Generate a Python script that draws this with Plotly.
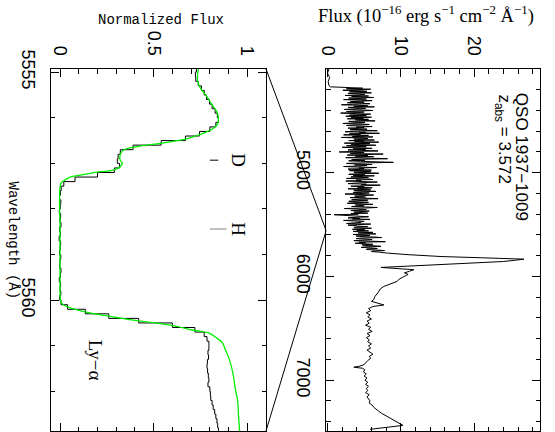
import plotly.graph_objects as go

# ---------------- data ----------------
# Zoomed panel: normalized flux (step spectrum), bins start wavelengths (Angstrom)
zoom_wl = [5554.9, 5555.0, 5555.1, 5555.2, 5555.3, 5555.4, 5555.5, 5555.6, 5555.7, 5555.8,
           5555.9, 5556.0, 5556.1, 5556.2, 5556.3, 5556.4, 5556.5, 5556.6, 5556.7, 5556.8,
           5556.9, 5557.0, 5557.1, 5557.2, 5557.3, 5557.4, 5557.5, 5557.6, 5557.7, 5557.8,
           5557.9, 5558.0, 5558.1, 5558.2, 5558.3, 5558.4, 5558.5, 5558.6, 5558.7, 5558.8,
           5558.9, 5559.0, 5559.1, 5559.2, 5559.3, 5559.4, 5559.5, 5559.6, 5559.7, 5559.8,
           5559.9, 5560.0, 5560.1, 5560.2, 5560.3, 5560.4, 5560.5, 5560.6, 5560.7, 5560.8,
           5560.9, 5561.0, 5561.1, 5561.2, 5561.3, 5561.4, 5561.5, 5561.6, 5561.7, 5561.8,
           5561.9, 5562.0, 5562.1, 5562.2, 5562.3, 5562.4, 5562.5, 5562.6, 5562.7, 5562.8,
           5562.9]
zoom_flux = [0.728, 0.723, 0.725, 0.738, 0.755, 0.770, 0.782, 0.798, 0.812, 0.828,
             0.840, 0.846, 0.832, 0.800, 0.745, 0.670, 0.540, 0.390, 0.322, 0.310,
             0.306, 0.318, 0.290, 0.200, 0.080, 0.020, 0.006, 0.002, -0.003, 0.004,
             0.001, -0.004, 0.003, 0.000, 0.005, -0.002, 0.002, -0.005, 0.003, 0.001,
             -0.003, 0.004, 0.000, -0.002, 0.005, 0.002, -0.004, 0.003, 0.000, 0.004,
             -0.002, 0.005, 0.040, 0.135, 0.260, 0.420, 0.600, 0.720, 0.770, 0.785,
             0.795, 0.795, 0.790, 0.793, 0.787, 0.785, 0.788, 0.792, 0.795, 0.790,
             0.800, 0.803, 0.805, 0.812, 0.818, 0.826, 0.832, 0.838, 0.842, 0.846,
             0.846]

# Zoomed panel: fitted model (green)
model_wl = [5554.93, 5555.18, 5555.35, 5555.55, 5555.73, 5555.90, 5556.05, 5556.14,
            5556.23, 5556.32, 5556.38, 5556.45, 5556.49, 5556.56, 5556.62, 5556.71,
            5556.82, 5556.93, 5556.99, 5557.08, 5557.15, 5557.19, 5557.26, 5557.30,
            5557.39, 5557.45, 5558.5, 5559.5, 5560.04, 5560.11, 5560.18, 5560.27,
            5560.35, 5560.44, 5560.50, 5560.57, 5560.66, 5560.72, 5560.83, 5560.94,
            5561.10, 5561.25, 5561.47, 5561.69, 5561.97, 5562.19, 5562.52, 5562.88]
model_flux = [0.739, 0.734, 0.750, 0.787, 0.814, 0.841, 0.846, 0.841, 0.820, 0.777,
              0.739, 0.686, 0.643, 0.536, 0.428, 0.337, 0.321, 0.321, 0.332, 0.320,
              0.284, 0.198, 0.107, 0.054, 0.016, 0.003, 0.000, 0.000, 0.005, 0.021,
              0.064, 0.145, 0.257, 0.391, 0.509, 0.616, 0.712, 0.793, 0.836, 0.868,
              0.884, 0.900, 0.916, 0.927, 0.937, 0.948, 0.953, 0.959]

# Line markers in zoomed panel
mark_labels = ["D", "H"]
mark_wl = [5556.93, 5558.44]
mark_lo = [0.80, 0.80]
mark_hi = [0.845, 0.89]
mark_colors = ["black", "#808080"]
mark_label_flux = 0.955
lya_label_wl = 5561.32
lya_label_flux = 0.19

# Full spectrum (10^-16 erg s^-1 cm^-2 A^-1)
# Lyman-limit region (before 4180 A)
ll_wl = [4000, 4040, 4080, 4120, 4160, 4172]
ll_flux = [0.2, 0.0, 0.3, 0.1, 0.2, 0.4]

# Ly-alpha forest, 4180-5775 A (one row per 100 A, 5 A apart)
forest_wl = [
    4180, 4185, 4190, 4195, 4200, 4205, 4210, 4215, 4220, 4225, 4230, 4235, 4240, 4245, 4250, 4255, 4260, 4265, 4270, 4275,
    4280, 4285, 4290, 4295, 4300, 4305, 4310, 4315, 4320, 4325, 4330, 4335, 4340, 4345, 4350, 4355, 4360, 4365, 4370, 4375,
    4380, 4385, 4390, 4395, 4400, 4405, 4410, 4415, 4420, 4425, 4430, 4435, 4440, 4445, 4450, 4455, 4460, 4465, 4470, 4475,
    4480, 4485, 4490, 4495, 4500, 4505, 4510, 4515, 4520, 4525, 4530, 4535, 4540, 4545, 4550, 4555, 4560, 4565, 4570, 4575,
    4580, 4585, 4590, 4595, 4600, 4605, 4610, 4615, 4620, 4625, 4630, 4635, 4640, 4645, 4650, 4655, 4660, 4665, 4670, 4675,
    4680, 4685, 4690, 4695, 4700, 4705, 4710, 4715, 4720, 4725, 4730, 4735, 4740, 4745, 4750, 4755, 4760, 4765, 4770, 4775,
    4780, 4785, 4790, 4795, 4800, 4805, 4810, 4815, 4820, 4825, 4830, 4835, 4840, 4845, 4850, 4855, 4860, 4865, 4870, 4875,
    4880, 4885, 4890, 4895, 4900, 4905, 4910, 4915, 4920, 4925, 4930, 4935, 4940, 4945, 4950, 4955, 4960, 4965, 4970, 4975,
    4980, 4985, 4990, 4995, 5000, 5005, 5010, 5015, 5020, 5025, 5030, 5035, 5040, 5045, 5050, 5055, 5060, 5065, 5070, 5075,
    5080, 5085, 5090, 5095, 5100, 5105, 5110, 5115, 5120, 5125, 5130, 5135, 5140, 5145, 5150, 5155, 5160, 5165, 5170, 5175,
    5180, 5185, 5190, 5195, 5200, 5205, 5210, 5215, 5220, 5225, 5230, 5235, 5240, 5245, 5250, 5255, 5260, 5265, 5270, 5275,
    5280, 5285, 5290, 5295, 5300, 5305, 5310, 5315, 5320, 5325, 5330, 5335, 5340, 5345, 5350, 5355, 5360, 5365, 5370, 5375,
    5380, 5385, 5390, 5395, 5400, 5405, 5410, 5415, 5420, 5425, 5430, 5435, 5440, 5445, 5450, 5455, 5460, 5465, 5470, 5475,
    5480, 5485, 5490, 5495, 5500, 5505, 5510, 5515, 5520, 5525, 5530, 5535, 5540, 5545, 5550, 5555, 5560, 5565, 5570, 5575,
    5580, 5585, 5590, 5595, 5600, 5605, 5610, 5615, 5620, 5625, 5630, 5635, 5640, 5645, 5650, 5655, 5660, 5665, 5670, 5675,
    5680, 5685, 5690, 5695, 5700, 5705, 5710, 5715, 5720, 5725, 5730, 5735, 5740, 5745, 5750, 5755, 5760, 5765, 5770, 5775]
forest_flux = [
    3.2, 4.8, 2.6, 5.9, 3.9, 2.1, 4.6, 5.4, 3.0, 4.2, 6.0, 2.8, 3.7, 5.1, 4.4, 2.4, 5.6, 3.3, 4.9, 6.3,
    2.9, 4.1, 5.3, 2.2, 3.8, 6.1, 4.5, 3.1, 5.0, 2.7, 4.7, 5.8, 3.4, 1.9, 4.3, 5.5, 3.6, 6.4, 2.8, 4.0,
    5.2, 3.5, 2.3, 4.8, 6.2, 3.9, 2.6, 5.0, 4.1, 1.8, 3.7, 5.9, 4.6, 3.0, 5.3, 2.5, 4.4, 6.0, 3.2, 4.9,
    2.7, 5.6, 3.8, 4.5, 6.5, 2.9, 3.6, 5.1, 4.0, 2.1, 4.8, 5.7, 3.3, 2.6, 4.6, 6.1, 3.9, 5.0, 2.8, 4.2,
    5.4, 3.1, 4.7, 6.8, 3.5, 2.4, 5.2, 4.3, 7.1, 3.0, 4.5, 2.2, 5.6, 4.0, 3.4, 6.2, 1.9, 4.9, 5.5, 3.6,
    4.1, 6.4, 2.9, 5.0, 3.7, 7.0, 4.4, 2.3, 5.8, 3.2, 4.6, 6.6, 2.6, 3.9, 5.3, 2.0, 4.8, 6.1, 3.5, 5.2,
    2.8, 4.4, 6.9, 3.6, 1.6, 5.0, 4.2, 3.1, 7.6, 4.7, 2.7, 5.5, 3.8, 6.3, 4.0, 2.5, 5.8, 8.2, 4.6, 3.3,
    5.1, 2.9, 4.5, 6.7, 9.0, 5.2, 2.6, 4.1, 6.1, 3.7, 5.4, 4.6, 2.2, 3.9, 6.7, 4.3, 5.0, 2.8, 4.9, 6.0,
    3.0, 4.4, 5.9, 3.6, 4.8, 7.0, 4.1, 2.9, 5.1, 3.5, 6.4, 4.7, 3.2, 5.6, 4.2, 2.6, 5.5, 6.2, 3.9, 4.6,
    2.5, 4.3, 6.8, 5.0, 3.9, 2.8, 5.3, 4.6, 7.2, 3.8, 3.2, 5.0, 4.1, 6.1, 5.4, 2.8, 4.5, 5.9, 3.6, 4.9,
    6.6, 4.0, 3.5, 5.7, 4.8, 2.4, 4.4, 6.3, 5.1, 3.7, 4.4, 5.2, 3.1, 4.6, 6.9, 4.2, 3.3, 5.5, 4.7, 2.9,
    4.0, 5.6, 3.4, 2.7, 4.9, 6.2, 3.8, 4.5, 5.0, 3.3, 4.5, 6.8, 5.2, 2.3, 3.9, 5.3, 4.6, 3.2, 5.7, 4.1,
    3.6, 4.8, 5.5, 3.2, 4.2, 0.9, 2.5, 4.0, 4.7, 5.6, 3.9, 2.8, 4.4, 3.4, 5.8, 4.6, 2.2, 3.7, 5.0, 4.3,
    4.5, 3.3, 2.6, 5.9, 4.2, 2.8, 3.9, 4.1, 5.5, 3.6, 3.7, 6.0, 4.8, 3.4, 5.1, 4.0, 5.6, 3.5, 4.4, 6.2,
    4.2, 5.3, 6.6, 3.5, 4.7, 5.8, 3.9, 4.4, 6.4, 7.4, 4.6, 3.9, 5.5, 6.1, 4.8, 3.6, 5.9, 7.9, 4.3, 5.2,
    3.8, 5.4, 6.2, 4.7, 5.0, 6.5, 7.3, 5.1, 4.6, 6.0, 6.8, 5.4, 5.3, 6.6, 7.8, 6.2, 6.0, 7.0, 7.5, 8.2]

# Ly-alpha emission line and red continuum
red_wl = [5790, 5808, 5820, 5833, 5845, 5856, 5913, 5935, 5950, 5965,
          5980, 6000, 6025, 6048, 6070, 6096, 6120, 6157, 6190, 6224,
          6240, 6260, 6275, 6290, 6310, 6330, 6350, 6370, 6390, 6410,
          6430, 6450, 6470, 6490, 6510, 6530, 6550, 6570, 6590, 6610,
          6630, 6650, 6670, 6690, 6710, 6730, 6750, 6770, 6790, 6810,
          6830, 6850, 6865, 6875, 6885, 6900, 6920, 6940, 6960, 6980,
          7000, 7020, 7040, 7060, 7080, 7100, 7120, 7140, 7160, 7180,
          7200, 7220, 7240, 7260, 7280, 7300, 7320, 7340, 7360, 7380,
          7400, 7420, 7436, 7474]
red_flux = [11.0, 15.5, 21.0, 26.8, 25.5, 24.0, 7.3, 11.8, 11.2, 10.5,
            11.0, 10.4, 9.8, 9.5, 8.6, 7.7, 7.2, 6.9, 6.5, 6.3,
            6.0, 6.8, 7.7, 6.2, 5.6, 5.9, 5.3, 5.8, 5.5, 6.0,
            5.4, 5.7, 5.2, 5.9, 5.6, 6.1, 5.4, 5.8, 5.3, 5.7,
            5.5, 6.0, 5.6, 5.9, 5.4, 5.8, 6.2, 5.7, 5.9, 5.5,
            5.2, 5.0, 4.4, 3.6, 4.8, 5.1, 4.9, 5.3, 5.0, 5.4,
            5.1, 5.5, 5.2, 5.6, 5.3, 5.5, 5.2, 5.7, 5.4, 5.6,
            5.8, 5.7, 6.1, 6.3, 6.6, 7.0, 7.4, 7.9, 8.3, 8.7,
            9.2, 9.7, 10.3, 5.8]

spec_wl = ll_wl + forest_wl + red_wl
spec_flux = ll_flux + forest_flux + red_flux

# axis settings
zoom_flux_range = [-0.05, 1.1]
zoom_wl_range = [5562.87, 5554.93]
full_flux_range = [-0.2, 29.0]
full_wl_range = [7490, 4000]

# ---------------- figure ----------------
W, H = 555, 432
dx1 = [50.7 / W, 266 / W]
dx2 = [326 / W, 540 / W]
dy = [1.0 / H, 1 - 69 / H]

fig = go.Figure()

fig.add_trace(go.Scatter(x=zoom_flux, y=zoom_wl, mode="lines", line=dict(color="black", width=1, shape="vh"),
                         xaxis="x", yaxis="y", showlegend=False))
fig.add_trace(go.Scatter(x=model_flux, y=model_wl, mode="lines", line=dict(color="#00ee00", width=1.3, shape="spline"),
                         xaxis="x", yaxis="y", showlegend=False))
for lab, w, lo, hi, c in zip(mark_labels, mark_wl, mark_lo, mark_hi, mark_colors):
    fig.add_trace(go.Scatter(x=[lo, hi], y=[w, w], mode="lines", line=dict(color=c, width=1),
                             xaxis="x", yaxis="y", showlegend=False))
    fig.add_annotation(x=mark_label_flux, y=w, xref="x", yref="y", text=lab, showarrow=False, textangle=90,
                       xanchor="center", yanchor="middle",
                       font=dict(family="Liberation Serif", size=19, color="black"))
fig.add_annotation(x=lya_label_flux, y=lya_label_wl, xref="x", yref="y", text="Ly\u2212\u03b1", showarrow=False,
                   textangle=90, xanchor="center", yanchor="middle",
                   font=dict(family="Liberation Serif", size=19, color="black"))

fig.add_trace(go.Scatter(x=spec_flux, y=spec_wl, mode="lines", line=dict(color="black", width=1),
                         xaxis="x2", yaxis="y2", showlegend=False))

fig.add_annotation(x=26.5, y=4844, xref="x2", yref="y2", text="QSO 1937\u22121009", showarrow=False, textangle=90,
                   xanchor="center", yanchor="middle",
                   font=dict(family="Liberation Sans", size=17, color="black"))
fig.add_annotation(x=23.9, y=4675, xref="x2", yref="y2", text="z<sub>abs</sub> = 3.572", showarrow=False, textangle=90,
                   xanchor="center", yanchor="middle",
                   font=dict(family="Liberation Sans", size=17, color="black"))

# zoom connector lines (computed from axis ranges/domains)
def paper_y_full(wl):
    lo, hi = full_wl_range[1], full_wl_range[0]
    return dy[0] + (dy[1] - dy[0]) * (hi - wl) / (hi - lo)

for corner_y, wl in [(dy[1], zoom_wl_range[1]), (dy[0], zoom_wl_range[0])]:
    fig.add_shape(type="line", xref="paper", yref="paper", x0=dx1[1], y0=corner_y, x1=dx2[0], y1=paper_y_full(wl),
                  line=dict(color="black", width=1))

ax_common = dict(showline=True, linecolor="black", linewidth=1, mirror="allticks", ticks="inside",
                 tickcolor="black", tickwidth=1, ticklen=8, showgrid=False, zeroline=False, automargin=False,
                 tickangle=90, tickfont=dict(family="Liberation Sans", size=18, color="black"),
                 ticklabelstandoff=6)

fig.update_layout(
    template="none",
    width=W, height=H, margin=dict(l=0, r=0, t=0, b=0, autoexpand=False),
    paper_bgcolor="white", plot_bgcolor="white",
    xaxis=dict(domain=dx1, range=zoom_flux_range, side="top", tickvals=[0, 0.5, 1], ticktext=["0", "0.5", "1"],
               minor=dict(dtick=0.1, ticks="inside", ticklen=4.5, tickcolor="black"), anchor="y", **ax_common),
    yaxis=dict(domain=dy, range=zoom_wl_range, tickvals=[5555, 5560], ticktext=["5555", "5560"],
               minor=dict(dtick=1, ticks="inside", ticklen=4.5, tickcolor="black"), anchor="x", **ax_common),
    xaxis2=dict(domain=dx2, range=full_flux_range, side="top", tickvals=[0, 10, 20], ticktext=["0", "10", "20"],
                minor=dict(dtick=2, ticks="inside", ticklen=4.5, tickcolor="black"), anchor="y2", **ax_common),
    yaxis2=dict(domain=dy, range=full_wl_range, tickvals=[5000, 6000, 7000], ticktext=["5000", "6000", "7000"],
                minor=dict(dtick=200, ticks="inside", ticklen=4.5, tickcolor="black"), anchor="x2", **ax_common),
)

fig.add_annotation(x=161 / W, y=1 - 20 / H, xref="paper", yref="paper", text="Normalized Flux", showarrow=False,
                   xanchor="center", yanchor="middle",
                   font=dict(family="Liberation Mono", size=14, color="black"))
fig.add_annotation(x=426 / W, y=1 - 14 / H, xref="paper", yref="paper",
                   text="Flux (10<sup>\u221216</sup> erg s<sup>\u22121</sup> cm<sup>\u22122</sup> \u00c5<sup>\u22121</sup>)",
                   xanchor="center", yanchor="middle",
                   showarrow=False, font=dict(family="Liberation Serif", size=18.5, color="black"))
fig.add_annotation(x=12.5 / W, y=1 - 240 / H, xref="paper", yref="paper", text="Wavelength\u00a0(\u00c5)",
                   showarrow=False, textangle=90, xanchor="center", yanchor="middle",
                   font=dict(family="Liberation Mono", size=14, color="black"))

fig.write_html("out.html", config={"displayModeBar": False},
               post_script="document.body.style.margin='0';document.body.style.overflow='hidden';")
